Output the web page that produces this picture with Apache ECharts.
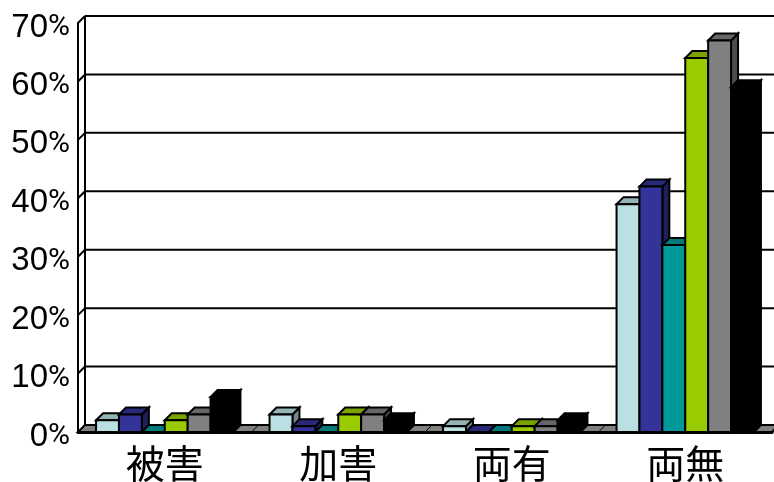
<!DOCTYPE html>
<html>
<head>
<meta charset="utf-8">
<style>html,body{margin:0;padding:0;background:#fff}#c{width:774px;height:482px}</style>
<script src="https://cdn.jsdelivr.net/npm/echarts@6/dist/echarts.min.js"></script>
</head>
<body>
<div id="c"></div>
<script>
var categories = ['被害', '加害', '両有', '両無'];
var yTicks = [0, 10, 20, 30, 40, 50, 60, 70];
var seriesA = [2, 3, 1, 39];
var seriesB = [3, 1, 0, 42];
var seriesC = [0, 0, 0, 32];
var seriesD = [2, 3, 1, 64];
var seriesE = [3, 3, 1, 67];
var seriesF = [6, 2, 2, 59];
var allSeries = [seriesA, seriesB, seriesC, seriesD, seriesE, seriesF];
var faceColors = ['#BBE0E3', '#333399', '#009999', '#99CC00', '#808080', '#000000'];
var topColors = ['#96B3B6', '#29297A', '#007A7A', '#7AA300', '#666666', '#000000'];
var sideColors = ['#708688', '#1F1F5C', '#005C5C', '#5C7A00', '#4D4D4D', '#000000'];

var DX = 7, DY = 7, BAR = 22.9, LW = 2;
var chart = echarts.init(document.getElementById('c'), null, {renderer: 'canvas'});

function poly(points, fill) {
  return {type: 'polygon', shape: {points: points},
    style: {fill: fill, stroke: '#000', lineWidth: LW, lineJoin: 'miter'}};
}
function line(x1, y1, x2, y2, w) {
  return {type: 'line', shape: {x1: x1, y1: y1, x2: x2, y2: y2},
    style: {stroke: '#000', lineWidth: w || LW, fill: null}};
}

function wallItem(params, api) {
  var v = api.value(0);
  var p = api.coord([0, v]);
  var band = api.size([1, 0])[0];
  var x0 = p[0] - band / 2;
  var x1 = x0 + band * categories.length;
  var y = p[1];
  var kids = [];
  if (v > 0) {
    kids.push(line(x0, y, x0 + DX, y - DY));
    kids.push(line(x0 + DX, y - DY, x1 + DX, y - DY));
  } else {
    kids.push(poly([[x0, y], [x0 + DX, y - DY], [x1 + DX, y - DY], [x1, y]], '#808080'));
    for (var i = 1; i <= categories.length; i++) {
      kids.push(line(x0 + band * i, y, x0 + band * i + DX, y - DY, 1));
    }
    kids.push(line(x0 + DX, y - DY, x0 + DX, api.coord([0, 70])[1] - DY));
  }
  return {type: 'group', children: kids};
}

function barItem(seriesIndex) {
  return function (params, api) {
    var c = api.value(0);
    var top = api.coord([c, api.value(1)]);
    var base = api.coord([c, 0]);
    var x = top[0] + (seriesIndex - 3) * BAR;
    var r = x + BAR, t = top[1], b = base[1];
    return {type: 'group', children: [
      poly([[r, b], [r + DX, b - DY], [r + DX, t - DY], [r, t]], sideColors[seriesIndex]),
      poly([[x, t], [x + DX, t - DY], [r + DX, t - DY], [r, t]], topColors[seriesIndex]),
      poly([[x, t], [r, t], [r, b], [x, b]], faceColors[seriesIndex])
    ]};
  };
}

var series = [{
  type: 'custom', coordinateSystem: 'cartesian2d', clip: false, z: 1,
  encode: {x: 1, y: 0},
  data: yTicks.map(function (v) { return [v, 0]; }),
  renderItem: wallItem, silent: true
}];
allSeries.forEach(function (vals, s) {
  series.push({
    type: 'custom', coordinateSystem: 'cartesian2d', clip: false, z: 3 + s,
    encode: {x: 0, y: 1},
    data: vals.map(function (v, i) { return [i, v]; }),
    renderItem: barItem(s), silent: true
  });
});

chart.setOption({
  animation: false,
  backgroundColor: '#fff',
  grid: {left: 78, top: 23, width: 694, height: 409, containLabel: false, outerBoundsMode: 'none'},
  xAxis: {
    type: 'category', data: categories,
    axisLine: {show: true, onZero: false, lineStyle: {color: '#000', width: 3}},
    axisTick: {show: false}, splitLine: {show: false},
    axisLabel: {fontFamily: '"Noto Sans CJK JP"', fontSize: 39, color: '#000', margin: 12, interval: 0}
  },
  yAxis: {
    type: 'value', min: 0, max: 70, interval: 10,
    axisLine: {show: true, lineStyle: {color: '#000', width: 2}},
    axisTick: {show: false}, splitLine: {show: false},
    axisLabel: {
      margin: 8, color: '#000',
      formatter: function (v) { return '{d|' + v + '}{p|%}'; },
      rich: {
        d: {fontFamily: '"Liberation Sans"', fontSize: 33, color: '#000', padding: [9, 0, 0, 0]},
        p: {fontFamily: 'Roboto', fontSize: 30, color: '#000', padding: [9, 0, 0, 0]}
      }
    }
  },
  series: series
});
</script>
</body>
</html>
